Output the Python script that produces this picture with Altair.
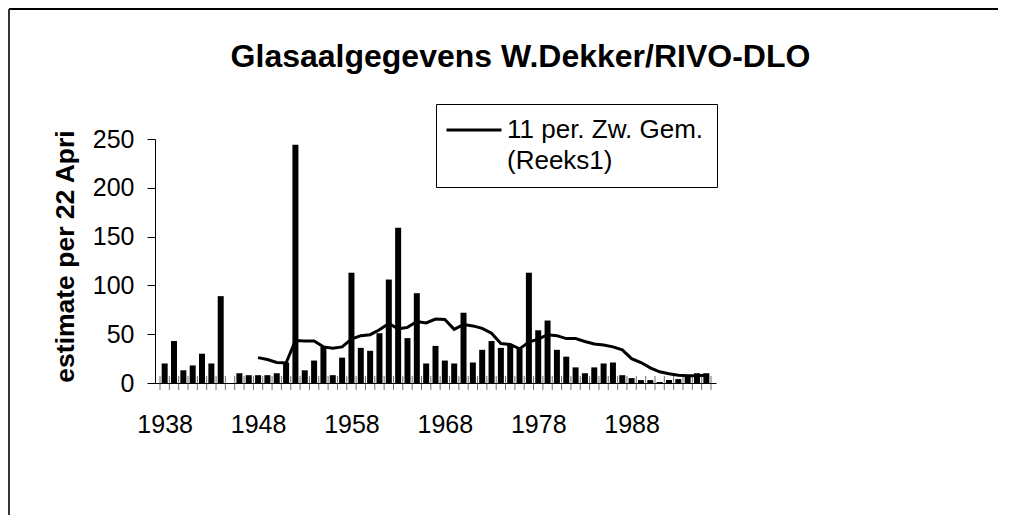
import altair as alt
import pandas as pd

FONT = "Liberation Sans, Arial, sans-serif"

# ---- data ----
years = list(range(1938, 1997))
catch = [20, 43, 13, 18, 30, 20, 89, None, 10, 8,
         8, 8, 10, 21, 244, 13, 23, 37, 8, 26,
         113, 36, 33, 51, 106, 159, 46, 92, 20, 38,
         23, 20, 72, 21, 34, 43, 36, 40, 35, 113,
         54, 64, 34, 27, 16, 10, 16, 20, 21, 8,
         5, 3, 3, 1, 3, 4, 7, 10, 10]
ma_years = list(range(1948, 1997))
ma_values = [26, 24, 21, 20.5, 43.5, 43, 43, 37, 35.5, 37,
             45, 48.5, 49.5, 54.5, 61, 55.5, 57, 63, 61.5, 65.5,
             65, 55, 60, 58.5, 56, 51, 40.5, 39.5, 35, 42,
             45, 49.5, 48.5, 45.5, 45.5, 42.5, 40, 39, 37, 34,
             25, 21, 15.5, 11.5, 9.5, 8, 7.5, 7.5, 8]
series_name = "11 per. Zw. Gem. (Reeks1)"
label_years = [1938, 1948, 1958, 1968, 1978, 1988]
y_ticks = [0, 50, 100, 150, 200, 250]

bars_df = pd.DataFrame({"year": years, "value": catch}).dropna()
years_df = pd.DataFrame({"year": years})
line_df = pd.DataFrame({"year": ma_years, "value": ma_values, "series": series_name})

W, H = 561, 244
PL, PT = 147, 131
TOTAL_W, TOTAL_H = 990, 507

x_scale = alt.Scale(domain=[1937.5, 1996.5], nice=False, zero=False)
y_scale = alt.Scale(domain=[0, 250], nice=False)

x_axis = alt.Axis(values=label_years, format="d", ticks=False, tickSize=0, grid=False,
                  labelFontSize=25, labelFont=FONT, labelColor="black", labelPadding=29,
                  domainColor="black", domainWidth=1, title=None, labelFlush=False)
y_axis = alt.Axis(values=y_ticks, grid=False, tickSize=8, tickColor="black", domainColor="black",
                  labelFontSize=25, labelFont=FONT, labelColor="black", labelPadding=13,
                  title="estimate per 22 Apri", titleFont=FONT, titleFontSize=26.5,
                  titleFontWeight="bold", titleColor="black", titleAngle=-90,
                  titleAlign="center", titleBaseline="alphabetic", titleX=-82, titleY=117)

X = alt.X("year:Q", scale=x_scale, axis=x_axis)
Y = alt.Y("value:Q", scale=y_scale, axis=y_axis)

bars = alt.Chart(bars_df).mark_bar(size=6, color="black").encode(x=X, y=Y)

line = alt.Chart(line_df).mark_line(strokeWidth=3).encode(
    x=X, y=Y,
    color=alt.Color("series:N", scale=alt.Scale(range=["black"]),
                    legend=alt.Legend(title=None, orient="none", legendX=281, legendY=-35,
                                      padding=13, strokeColor="black", fillColor="white",
                                      symbolType="M-5.5,0H5.5", symbolStrokeWidth=3, symbolSize=100,
                                      symbolOffset=12, labelOffset=20,
                                      labelFont=FONT, labelFontSize=26, labelColor="black",
                                      labelLimit=0,
                                      labelExpr="[slice(datum.label, 0, indexof(datum.label, ' (')), slice(datum.label, indexof(datum.label, ' (') + 1)]"))
)

ticks_lo = alt.Chart(years_df).transform_calculate(b="datum.year - 0.5").mark_tick(
    orient="vertical", size=14, thickness=1, color="#333").encode(
    x=alt.X("b:Q", scale=x_scale, axis=x_axis), y=alt.datum(0, scale=y_scale))
ticks_hi = alt.Chart(years_df).transform_filter("datum.year == 1996").transform_calculate(
    b="datum.year + 0.5").mark_tick(orient="vertical", size=14, thickness=1, color="#333").encode(
    x=alt.X("b:Q", scale=x_scale, axis=x_axis), y=alt.datum(0, scale=y_scale))

frame_df = pd.DataFrame({"k": [0]})
frame_top = alt.Chart(frame_df).mark_rule(color="black", strokeWidth=2).encode(
    x=alt.value(-PL + 1), x2=alt.value(TOTAL_W - PL), y=alt.value(-PT + 1))
frame_left = alt.Chart(frame_df).mark_rule(color="#333", strokeWidth=2).encode(
    x=alt.value(-PL + 1), y=alt.value(-PT + 1), y2=alt.value(TOTAL_H - PT))

chart = alt.layer(frame_top, frame_left, bars, line, ticks_lo, ticks_hi).properties(
    width=W, height=H,
    title=alt.Title("Glasaalgegevens W.Dekker/RIVO-DLO", font=FONT, fontSize=32,
                    fontWeight="bold", color="black", anchor="middle", frame="group",
                    baseline="alphabetic", offset=0, dx=85, dy=91),
    padding={"left": PL, "top": PT, "right": TOTAL_W - PL - W, "bottom": TOTAL_H - PT - H},
    autosize=alt.AutoSizeParams(type="none"),
).configure(style={"guide-label": {"lineHeight": 31}}).configure_view(stroke=None)

chart.save("out.html", embed_options={"renderer": "svg", "actions": False})
